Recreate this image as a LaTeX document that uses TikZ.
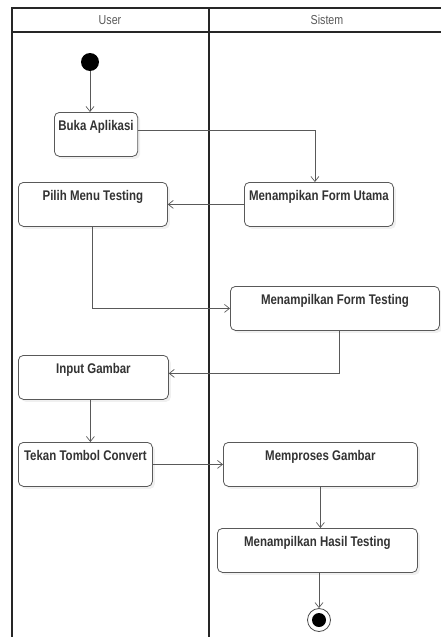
\documentclass[tikz,border=0pt]{standalone}
\usepackage{fontspec}
\setmainfont{Liberation Sans}[FakeStretch=0.82]
\usetikzlibrary{arrows.meta, shadows}

\begin{document}
\begin{tikzpicture}[
        x=1pt, y=-1pt,
        act/.style={draw=black!65, rounded corners=5pt, line width=0.8pt, fill=white,
            font=\bfseries\fontsize{14}{16}\selectfont, text=black!80,
            inner xsep=4pt, inner ysep=8pt, text height=10.5pt, text depth=17.5pt,
            anchor=north west,
            drop shadow={opacity=0.12, shadow xshift=2.5pt, shadow yshift=-2.5pt}},
        flow/.style={draw=black!65, line width=0.7pt, -{Straight Barb[length=5pt, width=8pt]}},
        lane/.style={draw=black!85, line width=1.1pt},
        head/.style={font=\fontsize{13}{15}\selectfont, text=black!65},
        start/.style={circle, fill=black, minimum size=18pt, inner sep=0pt},
        stop/.style={circle, draw=black!70, line width=0.8pt, fill=white, minimum size=23pt, inner sep=0pt}
    ]
        \useasboundingbox (0,0) rectangle (441,637);

        % Swimlanes
        \draw[lane] (12,637) -- (12,8) -- (441,8);
        \draw[lane] (12,32) -- (441,32);
        \draw[lane] (209,8) -- (209,637);
        \node[head] (user) at (110,20) {User};
        \node[head] (sistem) at (327,20) {Sistem};

        % Start and end
        \node[start] (init) at (90,62) {};
        \node[stop] (final) at (319,620) {};
        \fill (final) circle (7pt);

        % Activities (placed by top left corner)
        \node[act, minimum width=83pt] (buka) at (54,112) {Buka Aplikasi};
        \node[act, minimum width=149pt] (pilih) at (18,182) {Pilih Menu Testing};
        \node[act, minimum width=149pt] (utama) at (244,182) {Menampikan Form Utama};
        \node[act, minimum width=209pt] (formtest) at (230,286) {Menampilkan Form Testing};
        \node[act, minimum width=150pt] (input) at (18,355) {Input Gambar};
        \node[act, minimum width=134pt] (tekan) at (18,442) {Tekan Tombol Convert};
        \node[act, minimum width=194pt] (proses) at (223,442) {Memproses Gambar};
        \node[act, minimum width=200pt] (hasil) at (217,528) {Menampilkan Hasil Testing};

        % Control flow
        \draw[flow] (init) -- (buka.north -| init);
        \draw[flow] ([yshift=4pt]buka.east) -| ([xshift=-4pt]utama.north);
        \draw[flow] (utama.west) -- (pilih.east);
        \draw[flow] ([xshift=-1pt]pilih.south) |- (formtest.west);
        \draw[flow] ([xshift=4pt]formtest.south) |- ([yshift=4pt]input.east);
        \draw[flow] ([xshift=-3pt]input.south) -- ([xshift=-3pt]input.south |- tekan.north);
        \draw[flow] (tekan.east) -- (proses.west);
        \draw[flow] (proses.south) -- (proses.south |- hasil.north);
        \draw[flow] (final |- hasil.south) -- (final);
    \end{tikzpicture}
\end{document}
